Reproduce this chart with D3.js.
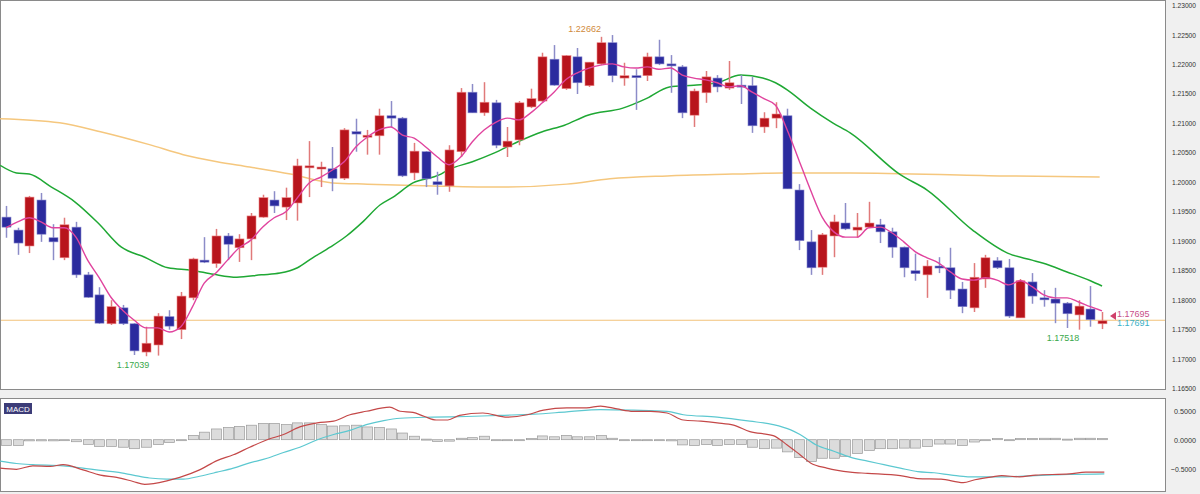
<!DOCTYPE html>
<html><head><meta charset="utf-8">
<script src="https://cdn.jsdelivr.net/npm/d3@7"></script>
<style>body{margin:0;background:#f0f0f0;font-family:"Liberation Sans",Arial,sans-serif}</style>
</head><body><svg id="c" width="1200" height="494"></svg>
<script>
// OHLC per candle
const ohlc = [
[1.1940,1.1959,1.1905,1.1923],[1.1918,1.1922,1.1876,1.1896],[1.1891,1.1976,1.1879,1.1974],[1.1969,1.1981,1.1898,1.1911],
[1.1905,1.1928,1.1867,1.1898],[1.1871,1.1939,1.1867,1.1927],[1.1923,1.1932,1.1837,1.1842],[1.1842,1.1847,1.1803,1.1804],
[1.1808,1.1821,1.1759,1.1760],[1.1759,1.1799,1.1757,1.1788],[1.1786,1.1791,1.1757,1.1759],[1.1759,1.1760,1.1706,1.1713],
[1.1711,1.1754,1.17039,1.1726],[1.1723,1.1777,1.1705,1.1772],[1.1771,1.1782,1.1749,1.1755],[1.1749,1.1813,1.1733,1.1806],
[1.1803,1.1871,1.1799,1.1869],[1.1867,1.1906,1.1862,1.1864],[1.1861,1.1920,1.1854,1.1908],[1.1908,1.1913,1.1867,1.1894],
[1.1888,1.1911,1.1864,1.1903],[1.1903,1.1947,1.1867,1.1942],[1.1940,1.1978,1.1939,1.1973],[1.1969,1.1984,1.1947,1.1959],
[1.1957,1.1990,1.1935,1.1973],[1.1964,1.2039,1.1934,1.2027],[1.2025,1.2069,1.1974,1.2027],[1.2023,1.2034,1.1991,1.2025],
[1.2022,1.2059,1.1984,1.2006],[1.2006,1.2091,1.2003,1.2088],[1.2085,1.2107,1.2051,1.2081],[1.2076,1.2088,1.2046,1.2079],
[1.2078,1.2124,1.2046,1.2112],[1.2112,1.2137,1.2093,1.2108],[1.2108,1.2110,1.2008,1.2010],[1.2015,1.2066,1.2003,1.2052],
[1.2051,1.2052,1.1991,1.2005],[1.2000,1.2017,1.1978,1.1995],[1.1993,1.2062,1.1983,1.2054],[1.2051,1.2159,1.2042,1.2152],
[1.2152,1.2166,1.2117,1.2117],[1.2117,1.2169,1.2112,1.2135],[1.2134,1.2139,1.2057,1.2062],[1.2059,1.2093,1.2042,1.2069],
[1.2071,1.2137,1.2062,1.2134],[1.2127,1.2158,1.2125,1.2141],[1.2137,1.2219,1.2135,1.2212],[1.2208,1.2232,1.2163,1.2164],
[1.2158,1.2215,1.2156,1.2214],[1.2212,1.2227,1.2149,1.2168],[1.2163,1.2203,1.2161,1.2203],[1.2200,1.2246,1.2198,1.2236],
[1.2236,1.2249,1.2169,1.2180],[1.2176,1.2202,1.2163,1.2180],[1.2180,1.2191,1.2122,1.2178],[1.2180,1.2219,1.2171,1.2212],
[1.2212,1.2241,1.2198,1.2200],[1.2200,1.2215,1.2151,1.2197],[1.2195,1.2198,1.2108,1.2117],[1.2113,1.2158,1.2093,1.2154],
[1.2151,1.2188,1.2134,1.2178],[1.2176,1.2181,1.2152,1.2161],[1.2159,1.2205,1.2156,1.2168],[1.2164,1.2181,1.2132,1.2163],
[1.2163,1.2178,1.2083,1.2095],[1.2093,1.2118,1.2083,1.2108],[1.2108,1.2135,1.2091,1.2115],[1.2112,1.2124,1.1988,1.1988],
[1.1986,1.1996,1.1884,1.1900],[1.1898,1.1918,1.1842,1.1854],[1.1855,1.1913,1.1842,1.1910],[1.1908,1.1944,1.1872,1.1932],
[1.1930,1.1964,1.1918,1.1920],[1.1918,1.1947,1.1905,1.1923],[1.1923,1.1966,1.1922,1.1930],[1.1927,1.1937,1.1896,1.1915],
[1.1915,1.1922,1.1871,1.1889],[1.1889,1.1890,1.1838,1.1854],[1.1849,1.1878,1.1832,1.1844],[1.1842,1.1867,1.1803,1.1857],
[1.1857,1.1872,1.1845,1.1855],[1.1854,1.1888,1.1801,1.1816],[1.1818,1.1830,1.1777,1.1788],[1.1786,1.1862,1.1779,1.1838],
[1.1835,1.1876,1.1820,1.1871],[1.1866,1.1872,1.1852,1.1854],[1.1854,1.1869,1.1769,1.1772],[1.1769,1.1835,1.1769,1.1832],
[1.1830,1.1845,1.1793,1.1806],[1.1803,1.1816,1.1788,1.1801],[1.1801,1.1820,1.1760,1.1794],[1.1794,1.1796,1.17518,1.1776],
[1.1774,1.1799,1.1749,1.1789],[1.1784,1.1823,1.1754,1.1766],[1.1759,1.1779,1.1750,1.1764]
];
const maShort = [1.1922,1.1932,1.1939,1.1932,1.1922,1.1922,1.1906,1.1867,1.1837,1.1804,1.1782,1.1765,1.1752,1.1752,1.1745,1.1754,1.1788,1.1828,1.1845,1.1867,
1.1888,1.1901,1.1923,1.1939,1.1949,1.1973,1.1998,1.2008,1.2020,1.2034,1.2059,1.2076,1.2088,1.2093,1.2079,1.2074,1.2059,1.2042,1.2029,1.2042,
1.2068,1.2088,1.2101,1.2108,1.2105,1.2117,1.2134,1.2152,1.2173,1.2185,1.2193,1.2198,1.2200,1.2195,1.2193,1.2195,1.2191,1.2193,1.2181,1.2176,
1.2173,1.2168,1.2161,1.2163,1.2152,1.2141,1.2130,1.2088,1.2037,1.1986,1.1940,1.1915,1.1906,1.1906,1.1922,1.1923,1.1913,1.1898,1.1881,1.1871,
1.1862,1.1847,1.1835,1.1833,1.1837,1.1833,1.1825,1.1832,1.1822,1.1808,1.1803,1.1803,1.1796,1.1788,1.1781];
const maMidIdx = [-0.5,0.9,2,3.9,5.9,7.9,9.9,11.9,13.9,15.9,17.8,19.8,21.9,23.5,25,26.3,27.8,29.2,30.6,32.1,33.2,34.9,37.2,37.9,40,41.9,43.9,46,47.9,49.9,52.9,55,56.9,59,61,63,64.9,66,67,69,70.9,72.4,76.7,79,82.9,85.9,88,88.9,91,93,94];
const maMid = [1.2028,1.2015,1.2013,1.1991,1.1966,1.1930,1.1889,1.1872,1.1854,1.1850,1.1843,1.1838,1.1842,1.1845,1.1854,1.1871,1.1889,1.1908,1.1932,1.1961,1.1974,1.1998,1.2012,1.2020,1.2034,1.2049,1.2068,1.2085,1.2096,1.2113,1.2125,1.2142,1.2161,1.2164,1.2168,1.2181,1.2176,1.2168,1.2156,1.2125,1.2100,1.2083,1.2012,1.1986,1.1918,1.1879,1.1867,1.1862,1.1847,1.1832,1.1823];
const maLongIdx = [-0.5,4.6,8.1,12.3,15.2,18.1,20.9,24.4,28,31,36.6,42.4,48.1,51.8,56.7,62.3,66.6,72.4,85.2,93.8];
const maLong = [1.2107,1.2100,1.2085,1.2063,1.2046,1.2034,1.2025,1.2013,1.1998,1.1996,1.1993,1.1991,1.1996,1.2005,1.2010,1.2013,1.2015,1.2015,1.2010,1.2008];
const hLine = 1.1765;
const priceTicks = [1.23,1.225,1.22,1.215,1.21,1.205,1.2,1.195,1.19,1.185,1.18,1.175,1.17,1.165];
const hist = [-0.10,-0.10,-0.02,-0.02,-0.02,0.0,-0.035,-0.08,-0.115,-0.115,-0.13,-0.155,-0.13,-0.085,-0.05,0.0,0.075,0.13,0.185,0.21,
0.23,0.25,0.28,0.28,0.26,0.29,0.29,0.26,0.235,0.24,0.25,0.22,0.21,0.185,0.115,0.06,0.01,-0.03,-0.025,0.025,
0.035,0.06,0.0,-0.01,-0.01,0.02,0.065,0.05,0.075,0.05,0.05,0.07,0.025,0.0,-0.01,-0.01,-0.01,-0.02,-0.09,-0.1,
-0.085,-0.1,-0.085,-0.085,-0.13,-0.155,-0.145,-0.21,-0.305,-0.375,-0.32,-0.32,-0.29,-0.24,-0.185,-0.155,-0.155,-0.145,-0.145,-0.115,
-0.075,-0.075,-0.1,-0.04,-0.01,0.02,-0.01,0.02,0.02,0.025,0.025,0.01,0.025,0.025,0.02];
const macdIdx = [-0.5,0.9,2.3,3.8,4.9,6.6,8.1,9.5,10.9,11.9,13.8,14.9,16.6,18.1,19.5,20.9,22.4,23.8,25.2,26.7,28.1,29.5,30.9,32.9,33.8,34.9,35.9,36.9,37.9,38.9,40.9,43,44.7,46.1,48.1,49.8,51,52.4,53.8,55.3,56.7,58.1,59.6,61,62.4,63.8,65.8,67,68.1,69,70.4,72.4,73.9,76.7,78.2,80.2,82.1,83.1,84.6,85.4,86.9,88.3,91.2,92.6,94.2];
const macd = [-0.49,-0.51,-0.45,-0.46,-0.43,-0.52,-0.61,-0.65,-0.72,-0.77,-0.71,-0.65,-0.52,-0.36,-0.26,-0.13,0.0,0.09,0.22,0.29,0.32,0.43,0.49,0.56,0.49,0.47,0.40,0.34,0.34,0.42,0.46,0.39,0.43,0.51,0.55,0.55,0.58,0.53,0.49,0.49,0.46,0.34,0.32,0.29,0.25,0.14,0.07,-0.09,-0.26,-0.40,-0.49,-0.56,-0.58,-0.62,-0.67,-0.68,-0.74,-0.69,-0.64,-0.62,-0.64,-0.61,-0.59,-0.56,-0.56];
const sigIdx = [-0.5,0.9,2.3,4.9,6.6,8.1,9.5,10.9,12.3,13.8,15.2,16.6,18.1,19.5,20.9,22.4,23.8,25.2,26.7,28.1,29.5,30.9,32.4,33.8,36.6,39.5,42.4,45.3,48.1,51,53.8,56.7,58.1,61,63.8,65.8,67.3,68.1,69.5,71,72.4,73.9,75.3,76.7,78.2,79.6,81.1,82.5,84,85.4,88.3,91.2,94.2];
const sig = [-0.37,-0.41,-0.43,-0.45,-0.49,-0.53,-0.56,-0.61,-0.66,-0.68,-0.68,-0.63,-0.56,-0.49,-0.40,-0.32,-0.22,-0.13,0.0,0.09,0.16,0.26,0.33,0.37,0.39,0.40,0.42,0.44,0.48,0.52,0.51,0.49,0.43,0.39,0.32,0.26,0.17,0.09,-0.09,-0.20,-0.30,-0.37,-0.43,-0.49,-0.55,-0.57,-0.61,-0.64,-0.64,-0.64,-0.62,-0.60,-0.59];
const macdTicks = [0.5,0,-0.5];

const svg = d3.select("#c");
const x = d3.scaleLinear().domain([0,94]).range([6,1102]);
const y = d3.scaleLinear().domain([1.165,1.23]).range([388,5]);
const ym = d3.scaleLinear().domain([-0.5,0.5]).range([468.7,410.7]);

// panels
svg.append("rect").attr("x",0.5).attr("y",0.5).attr("width",1165).attr("height",389).attr("fill","#fff").attr("stroke","#8a8a8a");
svg.append("rect").attr("x",0.5).attr("y",398.5).attr("width",1165).attr("height",93).attr("fill","#fff").attr("stroke","#8a8a8a");

const main = svg.append("g");
main.append("line").attr("x1",1).attr("x2",1165).attr("y1",y(hLine)).attr("y2",y(hLine)).attr("stroke","#f2c27a").attr("stroke-width",1.2);

const ln = (xs,vs,ys)=>d3.line().x((d,i)=>x(xs[i])).y(d=>ys(d)).curve(d3.curveMonotoneX)(vs);
main.append("path").attr("d",ln(maLongIdx,maLong,y)).attr("fill","none").attr("stroke","#f5c77e").attr("stroke-width",1.5);
main.append("path").attr("d",ln(maMidIdx,maMid,y)).attr("fill","none").attr("stroke","#1fa834").attr("stroke-width",1.5);

const bw = 9;
const cg = main.append("g");
ohlc.forEach((d,i)=>{
  const up = d[3] >= d[0];
  const cx = Math.round(x(i))+0.5;
  cg.append("line").attr("x1",cx).attr("x2",cx).attr("y1",y(d[1])).attr("y2",y(d[2]))
    .attr("stroke", up ? "#e07a7a" : "#8c8cc8").attr("stroke-width",1.5);
  const top = y(Math.max(d[0],d[3])), bot = y(Math.min(d[0],d[3]));
  cg.append("rect").attr("x",cx-bw/2).attr("y",top).attr("width",bw).attr("height",Math.max(2,bot-top))
    .attr("fill", up ? "#b8141c" : "#2b2b9e").attr("stroke", up ? "#e88" : "#8888cc").attr("stroke-width",0.6);
});
main.append("path").attr("d",ln(d3.range(95),maShort,y)).attr("fill","none").attr("stroke","#e0449e").attr("stroke-width",1.4);

// annotations
main.append("text").attr("x",x(51)-16).attr("y",y(1.2246)-5).text("1.22662").attr("fill","#d08a3a").attr("font-size",9).attr("text-anchor","middle");
main.append("text").attr("x",x(12)-13).attr("y",y(1.17039)+12).text("1.17039").attr("fill","#3aa84a").attr("font-size",9).attr("text-anchor","middle");
main.append("text").attr("x",x(91)-4).attr("y",y(1.17518)+13).text("1.17518").attr("fill","#3aa84a").attr("font-size",9).attr("text-anchor","middle");
main.append("path").attr("d",`M${x(94)+8},${y(1.1772)} l6,-4 v8 z`).attr("fill","#d0406a");
main.append("text").attr("x",x(94)+15).attr("y",y(1.1772)+1).text("1.17695").attr("fill","#c8508a").attr("font-size",9);
main.append("text").attr("x",x(94)+15).attr("y",y(1.1772)+10).text("1.17691").attr("fill","#3ab0c8").attr("font-size",9);

// axes
const styleAx = g => { g.select(".domain").remove();
  g.selectAll("text").attr("font-size",8).attr("fill","#333").attr("x",22).attr("text-anchor","end")
   .attr("textLength",d=>d<0?25:(Math.abs(d)<1?22:24)).attr("lengthAdjust","spacingAndGlyphs"); };
svg.append("g").attr("transform","translate(1174,0)")
  .call(d3.axisRight(y).tickValues(priceTicks).tickFormat(d3.format(".5f")).tickSize(0)).call(styleAx);
svg.append("g").attr("transform","translate(1174,0)")
  .call(d3.axisRight(ym).tickValues(macdTicks).tickFormat(d3.format(".4f")).tickSize(0)).call(styleAx);

// MACD
const mg = svg.append("g");
hist.forEach((v,i)=>{
  const cx = Math.round(x(i))+0.5;
  const t = Math.min(ym(v),ym(0)), h = Math.abs(ym(v)-ym(0));
  mg.append("rect").attr("x",cx-5).attr("y",t).attr("width",10).attr("height",Math.max(1,h))
    .attr("fill","#dcdcdc").attr("stroke","#9a9a9a").attr("stroke-width",0.7);
});
mg.append("path").attr("d",ln(sigIdx,sig,ym)).attr("fill","none").attr("stroke","#5cc8d0").attr("stroke-width",1.2);
mg.append("path").attr("d",ln(macdIdx,macd,ym)).attr("fill","none").attr("stroke","#c44848").attr("stroke-width",1.2);
svg.append("rect").attr("x",4).attr("y",403).attr("width",28).attr("height",11).attr("fill","#3c3c78");
svg.append("text").attr("x",18).attr("y",412).text("MACD").attr("fill","#fff").attr("font-size",8).attr("text-anchor","middle");
</script></body></html>
